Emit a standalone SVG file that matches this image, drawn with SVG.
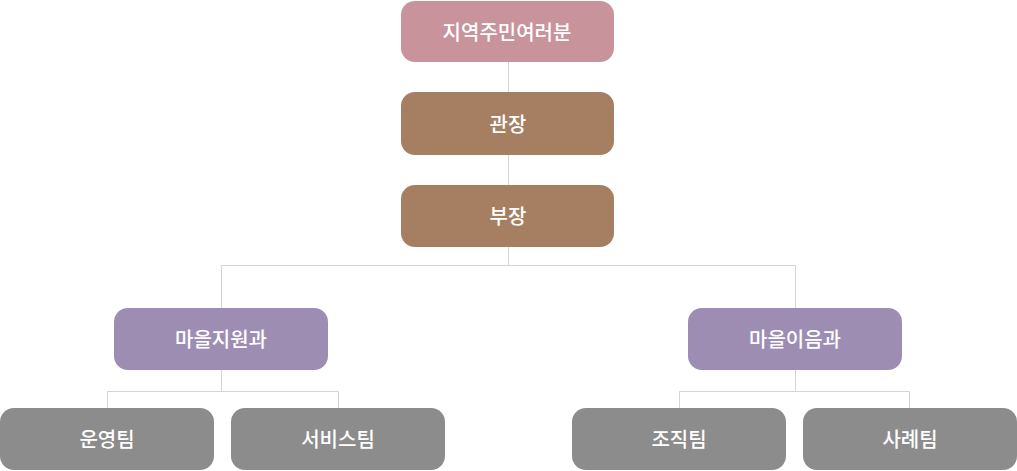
<svg xmlns="http://www.w3.org/2000/svg" width="1017" height="471" viewBox="0 0 1017 471">
<style>
.l{fill:none;stroke:#d4d4d4;stroke-width:1}
.t{font-family:"Noto Sans CJK KR","Noto Sans",sans-serif;font-size:20px;fill:#fff;text-anchor:middle;dominant-baseline:central;font-weight:500}
.a{fill:#c9939c}.b{fill:#a67f63}.c{fill:#9e8db3}.d{fill:#8c8c8c}
</style>
<rect width="1017" height="471" fill="#fff"/>
<g id="connectors">
<path class="l" d="M508.5 62V92M508.5 155V185M508.5 247V265.5M221.5 265.5H795.5M221.5 265.5V308M795.5 265.5V308"/>
<path class="l" d="M221.5 370V391.5M107.5 391.5H338.5M107.5 391.5V408M338.5 391.5V408"/>
<path class="l" d="M795.5 370V391.5M679.5 391.5H909.5M679.5 391.5V408M909.5 391.5V408"/>
</g>
<g id="n1"><rect class="a" x="401" y="1" width="213" height="61" rx="14"/><text class="t" x="507" y="31">지역주민여러분</text></g>
<g id="n2"><rect class="b" x="401" y="92" width="213" height="63" rx="14"/><text class="t" x="508" y="123">관장</text></g>
<g id="n3"><rect class="b" x="401" y="185" width="213" height="62" rx="14"/><text class="t" x="508" y="215">부장</text></g>
<g id="n4"><rect class="c" x="114" y="308" width="214" height="62" rx="14"/><text class="t" x="221" y="338">마을지원과</text></g>
<g id="n5"><rect class="c" x="688" y="308" width="214" height="62" rx="14"/><text class="t" x="795" y="338">마을이음과</text></g>
<g id="n6"><rect class="d" x="0" y="408" width="214" height="62" rx="14"/><text class="t" x="107" y="438">운영팀</text></g>
<g id="n7"><rect class="d" x="231" y="408" width="214" height="62" rx="14"/><text class="t" x="338" y="438">서비스팀</text></g>
<g id="n8"><rect class="d" x="572" y="408" width="214" height="62" rx="14"/><text class="t" x="679" y="438">조직팀</text></g>
<g id="n9"><rect class="d" x="803" y="408" width="214" height="62" rx="14"/><text class="t" x="910" y="438">사례팀</text></g>
</svg>
